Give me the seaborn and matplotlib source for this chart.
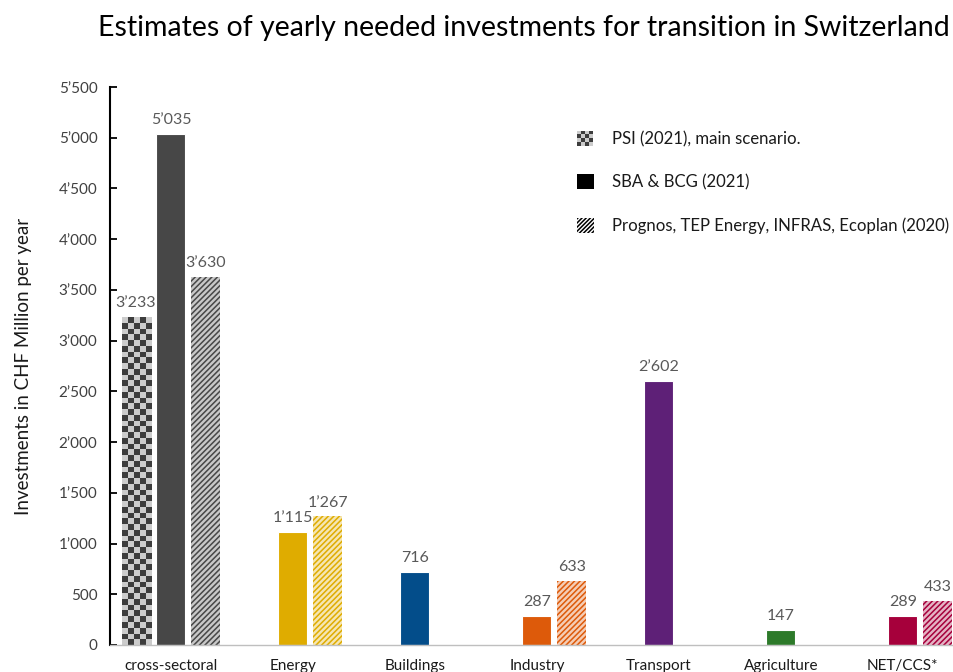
import numpy as np
import pandas as pd
import seaborn as sns
import matplotlib.pyplot as plt
from matplotlib.patches import Rectangle, Patch
from matplotlib.legend_handler import HandlerBase
from matplotlib.colors import to_rgb, ListedColormap

# Yearly investment needs (CHF million) by sector and study
categories = ["cross-sectoral", "Energy", "Buildings", "Industry",
              "Transport", "Agriculture", "NET/CCS*"]
sources = ["PSI (2021), main scenario.",
           "SBA & BCG (2021)",
           "Prognos, TEP Energy, INFRAS, Ecoplan (2020)"]
psi_values = [3233, None, None, None, None, None, None]
sba_values = [5035, 1115, 716, 287, 2602, 147, 289]
prognos_values = [3630, 1267, None, 633, None, None, 433]

sector_colors = ["#474747", "#DFAC00", "#034D8A", "#DD5A0A",
                 "#5E2077", "#2D7A2A", "#A6003B"]

yticks = list(range(0, 5501, 500))


def swiss(v):
    return f"{v:,.0f}".replace(",", "\u2019")


def lighten(c, amount):
    r, g, b = to_rgb(c)
    return (r + (1 - r) * amount, g + (1 - g) * amount, b + (1 - b) * amount)


rows = []
for src, vals in zip(sources, [psi_values, sba_values, prognos_values]):
    for cat, v in zip(categories, vals):
        if v is not None:
            rows.append({"sector": cat, "source": src, "value": v})
df = pd.DataFrame(rows)

sns.set_theme(style="white")
plt.rcParams["font.family"] = ["Lato", "DejaVu Sans"]
plt.rcParams["hatch.linewidth"] = 1.1

fig = plt.figure(figsize=(9.54, 6.72), dpi=100)
ax = fig.add_axes([0.1153, 0.0402, 0.8847, 0.8303])

sns.barplot(data=df, x="sector", y="value", hue="source",
            order=categories, hue_order=sources, dodge=True,
            width=0.86, gap=0.17, errorbar=None, saturation=1,
            legend=False, ax=ax)

ax.set_xlim(-0.5, 6.42)
ax.set_ylim(0, 5500)

checker_dark = "#3d3d3d"
checker_light = "#cccccc"
checker_cmap = ListedColormap([checker_light, checker_dark])

fig.canvas.draw()
for k, cont in enumerate(ax.containers):
    for bar in cont.patches:
        x0 = bar.get_x()
        w = bar.get_width()
        h = bar.get_height()
        cat = int(round(x0 + w / 2))
        base = sector_colors[cat]
        if k == 0:
            bar.set_facecolor(checker_light)
            bar.set_edgecolor("none")
            p0 = ax.transData.transform((x0, 0))
            p1 = ax.transData.transform((x0 + w, h))
            ny = max(1, int(round((p1[1] - p0[1]) / 5.8)))
            nx = max(1, int(round((p1[0] - p0[0]) / 5.8)))
            grid = (np.add.outer(np.arange(ny), np.arange(nx)) % 2)
            im = ax.imshow(grid, cmap=checker_cmap, extent=(x0, x0 + w, 0, h),
                           origin="lower", aspect="auto",
                           interpolation="nearest", zorder=bar.get_zorder() + 0.1)
            im.set_clip_path(bar)
        elif k == 1:
            bar.set_facecolor(base)
            bar.set_edgecolor("white")
            bar.set_linewidth(0.8)
        else:
            bar.set_facecolor(lighten(base, 0.7))
            bar.set_edgecolor(base)
            bar.set_hatch("//////")
            bar.set_linewidth(0)
    ax.bar_label(cont, fmt=swiss, padding=5, fontsize=11.5, color="#595959")

ax.set_xlim(-0.5, 6.42)
ax.set_ylim(0, 5500)
ax.set_yticks(yticks)
ax.set_yticklabels([swiss(v) for v in yticks])
ax.tick_params(axis="y", direction="in", length=5, width=1.3, color="black",
               labelsize=11, labelcolor="#404040", pad=9, left=True)
ax.tick_params(axis="x", length=0, labelsize=11, labelcolor="#1a1a1a", pad=10)
ax.set_xlabel("")
ax.set_ylabel("Investments in CHF Million per year", fontsize=13.5,
              color="#1a1a1a", labelpad=19)

for side in ("top", "right"):
    ax.spines[side].set_visible(False)
ax.spines["left"].set_color("black")
ax.spines["left"].set_linewidth(1.5)
ax.spines["bottom"].set_color("#bfbfbf")
ax.spines["bottom"].set_linewidth(1.0)


class CheckerHandler(HandlerBase):
    def create_artists(self, legend, orig_handle, xdescent, ydescent,
                       width, height, fontsize, trans):
        n = 4
        size = min(width, height)
        cell = size / n
        artists = []
        for i in range(n):
            for j in range(n):
                col = checker_dark if (i + j) % 2 == 0 else checker_light
                artists.append(Rectangle((-xdescent + i * cell, -ydescent + j * cell),
                                         cell, cell, facecolor=col,
                                         edgecolor="none", transform=trans))
        return artists


checker_handle = Patch(facecolor=checker_light)
handles = [checker_handle,
           Patch(facecolor="black", edgecolor="black", linewidth=0),
           Patch(facecolor="white", edgecolor="black", hatch="////////", linewidth=0)]
fig.legend(handles, sources, loc="upper left", bbox_to_anchor=(0.5965, 0.818),
           frameon=False, handlelength=1.0, handleheight=1.0,
           handletextpad=1.05, labelspacing=1.62, borderpad=0,
           fontsize=12.1, labelcolor="#1a1a1a",
           handler_map={checker_handle: CheckerHandler()})

fig.text(0.549, 0.958, "Estimates of yearly needed investments for transition in Switzerland",
         ha="center", va="center", fontsize=20.5, color="black")

fig.savefig("out.png", dpi=100)
